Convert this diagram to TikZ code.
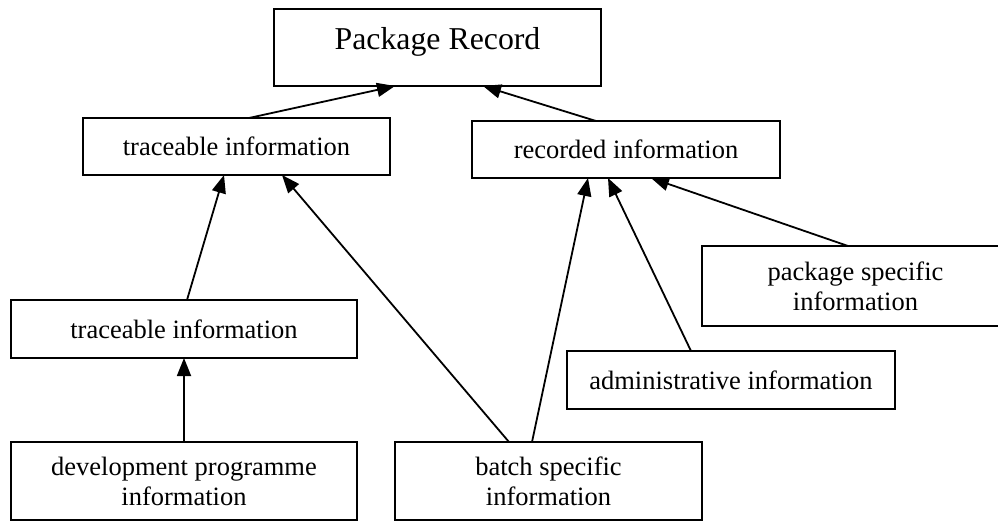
\documentclass[tikz,border=0pt]{standalone}
\usepackage{fontspec}
\setmainfont{Liberation Serif}
\usetikzlibrary{arrows.meta}
\begin{document}
\begin{tikzpicture}[x=1pt,y=-1pt,
  box/.style={draw, line width=2.2pt, rectangle, inner sep=0pt, outer sep=0pt, align=center,
              font=\fontsize{26.5}{30}\selectfont},
  arr/.style={line width=1.8pt, -{Triangle[length=18pt,width=14pt]}}]
\useasboundingbox (0,0) rectangle (998,521);
% boxes
\node[box, minimum width=327pt, minimum height=77pt] (pr) at (437.5,47.5) {};
\node[anchor=base, font=\fontsize{31.8}{36}\selectfont] (prt) at (437.5,50) {Package Record};
\node[box, minimum width=307pt, minimum height=57pt] (tt1) at (236.5,146.5) {traceable information};
\node[box, minimum width=308pt, minimum height=57pt] (rec) at (626,149.5) {recorded information};
\node[box, minimum width=307pt, minimum height=80pt] (pkg) at (855.5,286) {package specific\\information};
\node[box, minimum width=346pt, minimum height=58pt] (tt2) at (184,329) {traceable information};
\node[box, minimum width=328pt, minimum height=58pt] (adm) at (731,380) {administrative information};
\node[box, minimum width=346pt, minimum height=78pt] (dev) at (184,481) {development programme\\information};
\node[box, minimum width=307pt, minimum height=78pt] (bat) at (548.5,481) {batch specific\\information};
% connectors
\draw[arr] ([xshift=12.5pt]tt1.north) -- ([xshift=-42.5pt]pr.south);
\draw[arr] ([xshift=-30pt]rec.north) -- ([xshift=45.5pt]pr.south);
\draw[arr] ([xshift=3pt]tt2.north) -- ([xshift=-12.5pt]tt1.south);
\draw[arr] ([xshift=-39.5pt]bat.north) -- ([xshift=45.5pt]tt1.south);
\draw[arr] ([xshift=-16.5pt]bat.north) -- ([xshift=-38pt]rec.south);
\draw[arr] ([xshift=-40pt]adm.north) -- ([xshift=-18pt]rec.south);
\draw[arr] ([xshift=-7.5pt]pkg.north) -- ([xshift=25pt]rec.south);
\draw[arr] (dev.north) -- (tt2.south);
\end{tikzpicture}
\end{document}
